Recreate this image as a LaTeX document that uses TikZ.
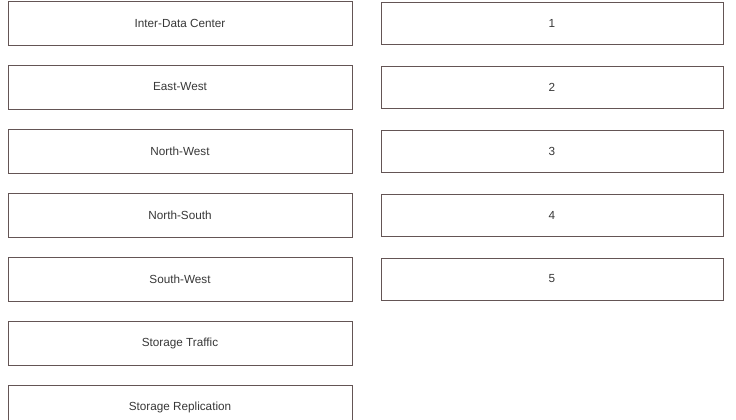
\documentclass[tikz,border=0pt]{standalone}
\usepackage{fontspec}
\setmainfont{Liberation Sans}
\definecolor{boxline}{RGB}{100,85,85}
\definecolor{boxtext}{RGB}{55,55,55}
\begin{document}
\begin{tikzpicture}[x=0.75pt,y=-0.75pt,
  box/.style={draw=boxline,line width=0.6pt,rectangle,minimum height=44*0.75pt,
    minimum width=344*0.75pt,inner sep=0pt,font=\fontsize{8.8}{10}\selectfont,text=boxtext},
  rbox/.style={box,minimum height=42*0.75pt,minimum width=342*0.75pt}]
\useasboundingbox (0,0) rectangle (736,420);
\clip (0,0) rectangle (736,420);
\node[box] (l1) at (180,23) {Inter-Data Center};
\node[box] (l2) at (180,87) {East-West};
\node[box] (l3) at (180,151) {North-West};
\node[box] (l4) at (180,215) {North-South};
\node[box] (l5) at (180,279) {South-West};
\node[box] (l6) at (180,343) {Storage Traffic};
\node[box] (l7) at (180,407) {Storage Replication};
\node[rbox] (r1) at (552,23) {1};
\node[rbox] (r2) at (552,87) {2};
\node[rbox] (r3) at (552,151) {3};
\node[rbox] (r4) at (552,215) {4};
\node[rbox] (r5) at (552,279) {5};
\end{tikzpicture}
\end{document}
